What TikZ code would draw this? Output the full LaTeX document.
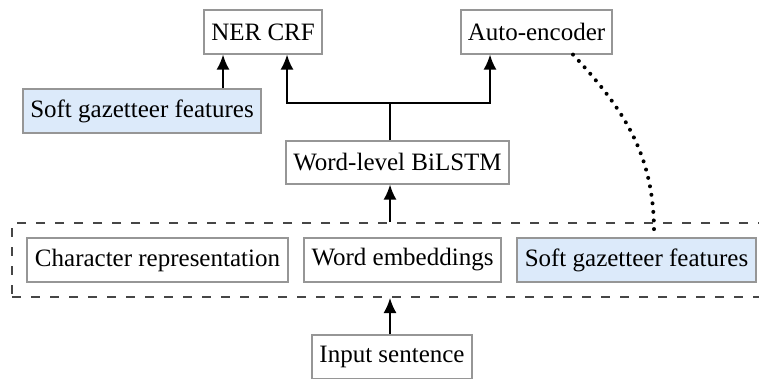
\documentclass[tikz,border=0pt]{standalone}
\usepackage{fontspec}
\setmainfont{Liberation Serif}
\usetikzlibrary{arrows.meta}
\definecolor{boxline}{RGB}{150,150,150}
\definecolor{gazfill}{RGB}{220,234,250}
\definecolor{dashcol}{RGB}{70,70,70}
\tikzset{
  box/.style={draw=boxline, line width=1.2pt, fill=white, minimum height=44pt, inner sep=0pt, font=\fontsize{25}{29}\selectfont},
  gaz/.style={box, fill=gazfill},
  arr/.style={line width=1.8pt, -{Latex[length=15pt,width=13pt]}},
  conn/.style={line width=1.8pt},
  grpbox/.style={draw=dashcol, line width=2pt, dash pattern=on 9pt off 10pt, minimum width=768pt, minimum height=74pt, inner sep=0pt},
  dotline/.style={line width=4pt, line cap=round, dash pattern=on 0pt off 8.6pt}
}
\begin{document}
\begin{tikzpicture}[x=1pt,y=-1pt]
\useasboundingbox (0,0) rectangle (759,378);
\node[grpbox] (grp) at (396,260) {};
\node[box, minimum width=118pt] (ner) at (263,32) {NER CRF};
\node[box, minimum width=151pt] (auto) at (536.5,32) {Auto-encoder};
\node[gaz, minimum width=238pt] (sgtop) at (142,111) {Soft gazetteer features};
\node[box, minimum width=223pt, minimum height=43pt] (bilstm) at (397.5,162.5) {Word-level BiLSTM};
\node[box, minimum width=261pt] (char) at (157.5,260) {Character representation};
\node[box, minimum width=197pt] (wemb) at (402.5,260) {Word embeddings};
\node[gaz, minimum width=239pt] (sgbot) at (636.5,260) {Soft gazetteer features};
\node[box, minimum width=160pt] (input) at (392,357) {Input sentence};
\coordinate (j) at (390,103);
\coordinate (dotend) at (654,232);
\draw[conn] (bilstm.north -| j) -- (j);
\draw[arr] (j) -| ([xshift=24pt]ner.south);
\draw[arr] (j) -| ([xshift=-46.5pt]auto.south);
\draw[arr] (sgtop.north -| 223,0) -- ([xshift=-40pt]ner.south);
\draw[arr] (grp.north -| j) -- (bilstm.south -| j);
\draw[arr] (input.north -| j) -- (grp.south -| j);
\draw[dotline] ([xshift=36.5pt]auto.south) to[out=-47,in=90] (dotend);
\end{tikzpicture}
\end{document}
